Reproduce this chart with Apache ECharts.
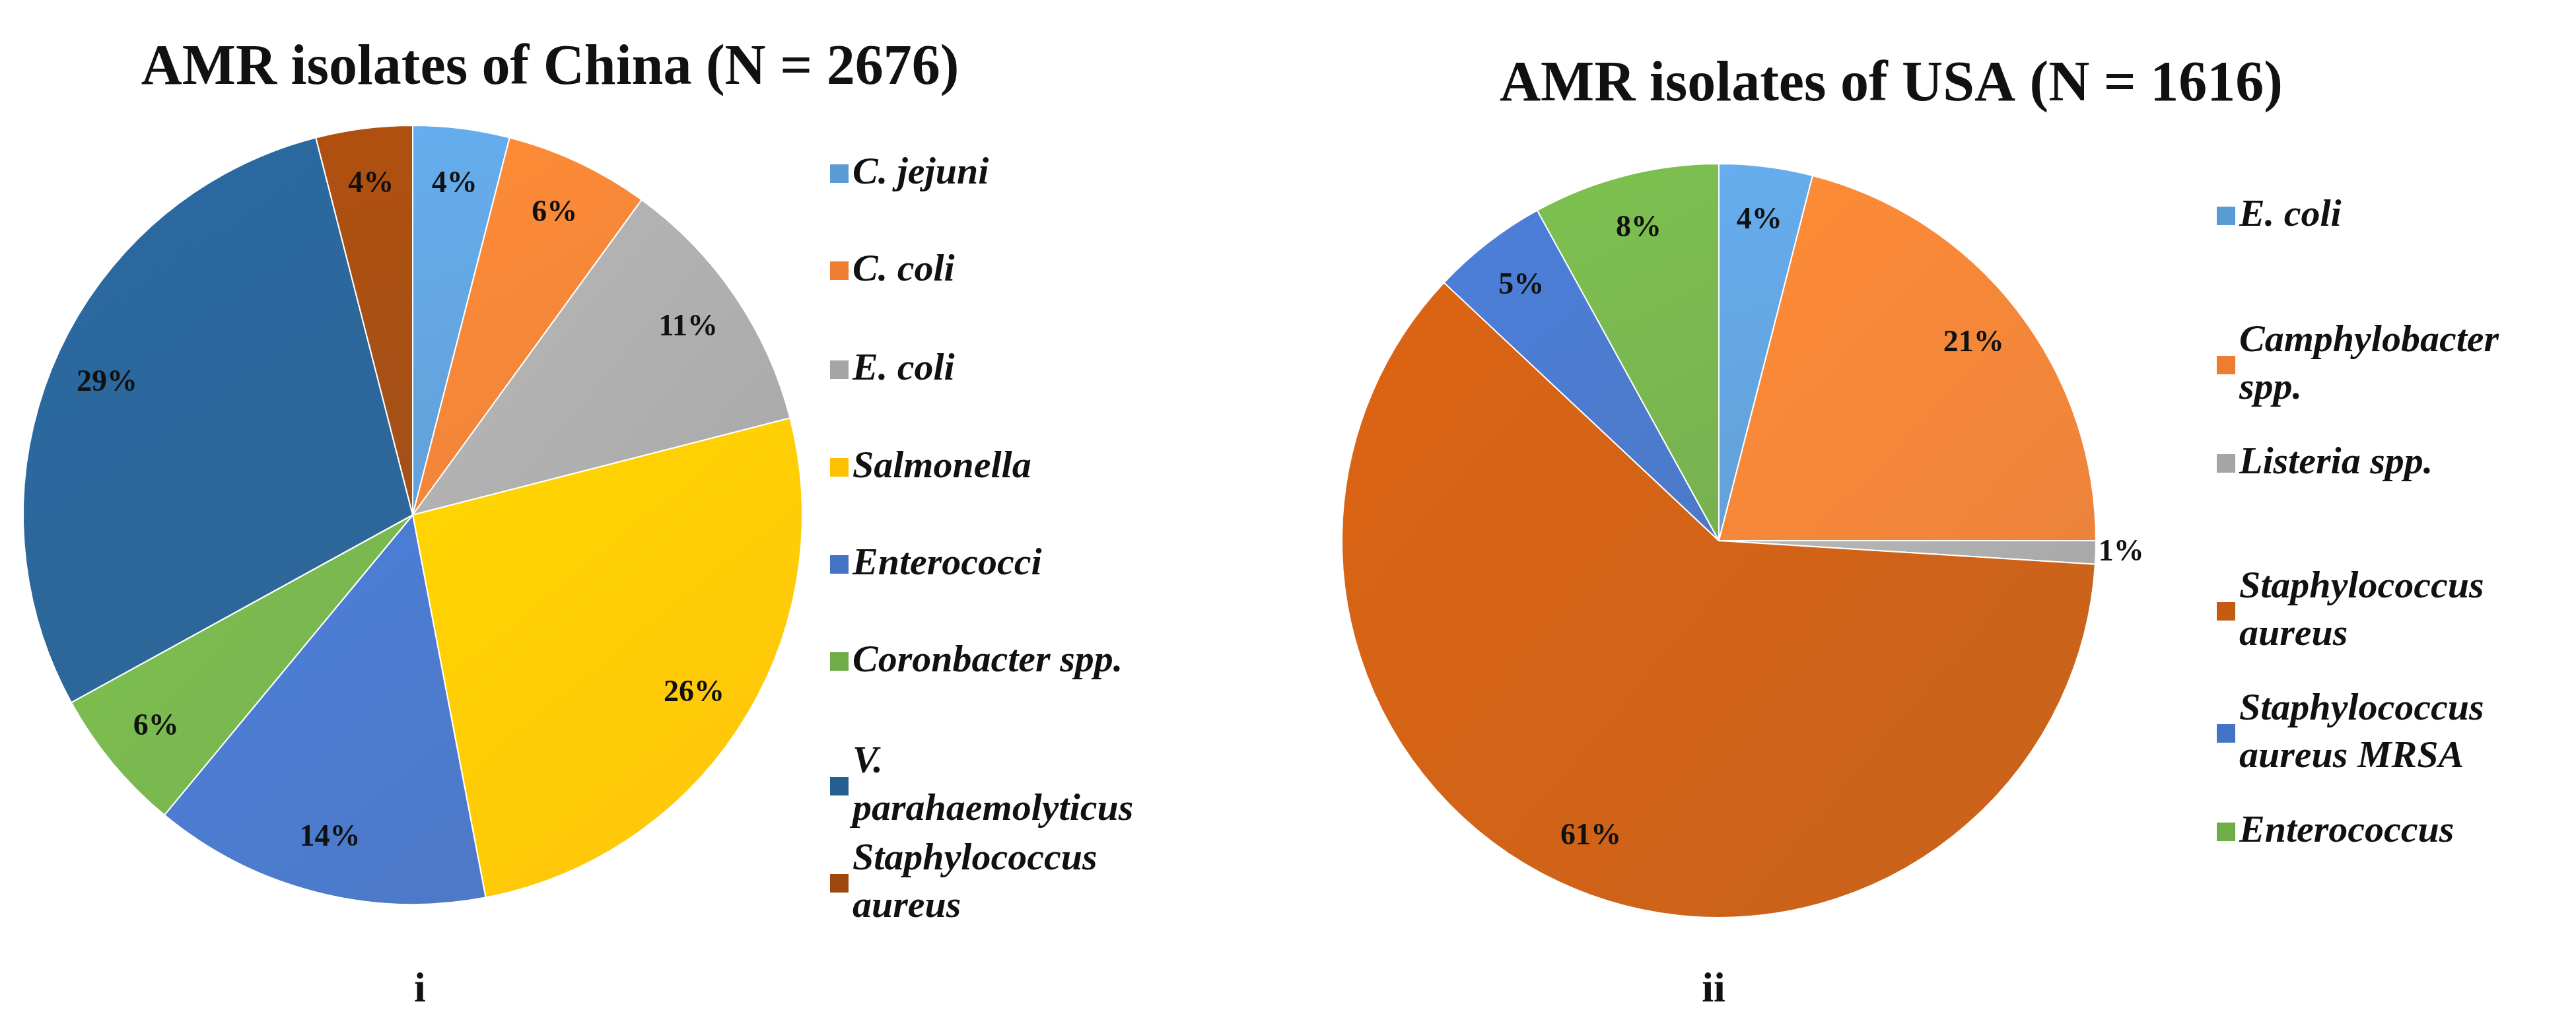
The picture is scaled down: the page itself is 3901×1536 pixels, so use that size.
<!DOCTYPE html>
<html><head><meta charset="utf-8">
<script src="https://cdn.jsdelivr.net/npm/echarts@6/dist/echarts.min.js"></script>
<style>html,body{margin:0;background:#fff}#c{width:3901px;height:1536px}</style>
</head><body><div id="c"></div>
<script>
const chinaCats = ['C. jejuni','C. coli','E. coli','Salmonella','Enterococci','Coronbacter spp.','V. parahaemolyticus','Staphylococcus aureus'];
const chinaVals = [4,6,11,26,14,6,29,4];
const chinaColors = ['#5B9BD5','#ED7D31','#A5A5A5','#FFC000','#4472C4','#70AD47','#255E91','#9E480E'];
const chinaLegendText = ['C. jejuni','C. coli','E. coli','Salmonella','Enterococci','Coronbacter spp.','V.\nparahaemolyticus','Staphylococcus\naureus'];
const usaCats = ['E. coli\u200b','Camphylobacter spp.','Listeria spp.','Staphylococcus aureus\u200b','Staphylococcus aureus MRSA','Enterococcus'];
const usaVals = [4,21,1,61,5,8];
const usaColors = ['#5B9BD5','#ED7D31','#A5A5A5','#C55A11','#4472C4','#70AD47'];
const usaLegendText = ['E. coli','Camphylobacter\nspp.','Listeria spp.','Staphylococcus\naureus','Staphylococcus\naureus MRSA','Enterococcus'];

const chinaLegendY = [258,405,555,703,850,997,1150,1297];
const usaLegendY = [322,512,697,885,1070,1255];
const serif = '"Liberation Serif","DejaVu Serif",serif';

function legends(cats, texts, colors, ys, left, multi) {
  return cats.map((n,i)=>({
    data:[{name:n, itemStyle:{color:colors[i]}}],
    left:left, top: ys[i]-36, orient:'vertical', icon:'rect', itemWidth:30, itemHeight:30, itemGap:0,
    formatter:()=>texts[i],
    textStyle:{fontFamily:serif,fontSize:58,fontWeight:'bold',fontStyle:'italic',color:'#111',lineHeight:72,
      padding: texts[i].includes('\n') ? [0,0,0,0] : 0},
    selectedMode:false
  }));
}
function pies(cats, vals, colors, center, r, special) {
  const data = cats.map((n,i)=>({name:n, value:vals[i], itemStyle:{color:{type:'linear',x:0,y:0,x2:1,y2:1,colorStops:[{offset:0,color:echarts.color.lift(colors[i],-0.12)},{offset:1,color:echarts.color.lift(colors[i],0.05)}]}}}));
  const ldata = cats.map((n,i)=>{
    const d = {name:n, value:vals[i], itemStyle:{color:'rgba(0,0,0,0)'}};
    if (special===i) d.label = {position:'outside', distanceToLabelLine:0};
    return d;
  });
  return [
    {type:'pie', radius:[0,r], center:center, startAngle:90, clockwise:true, label:{show:false}, labelLine:{show:false},
     itemStyle:{borderColor:'#fff',borderWidth:2}, emphasis:{disabled:true}, data:data},
    {type:'pie', radius:[r*0.7,r], center:center, startAngle:90, clockwise:true, silent:true, legendHoverLink:false,
     label:{show:true, position:'inside', formatter:'{c}%', fontFamily:serif, fontSize:46, fontWeight:'bold', color:'#111'},
     labelLine:{show:false, length:4, length2:0}, emphasis:{disabled:true}, data:ldata}
  ];
}
const chart = echarts.init(document.getElementById('c'));
chart.setOption({
  backgroundColor:'#fff',
  animation:false,
  title:[
    {text:'AMR isolates of China (N = 2676)', left:828, top:100, textAlign:'center', textVerticalAlign:'middle',
     textStyle:{fontFamily:serif,fontSize:86,fontWeight:'bold',color:'#111'}},
    {text:'AMR isolates of USA (N = 1616)', left:2859, top:125, textAlign:'center', textVerticalAlign:'middle',
     textStyle:{fontFamily:serif,fontSize:86,fontWeight:'bold',color:'#111'}},
    {text:'i', left:631, top:1495, textAlign:'center', textVerticalAlign:'middle', textStyle:{fontFamily:serif,fontSize:64,fontWeight:'bold',color:'#111'}},
    {text:'ii', left:2590, top:1495, textAlign:'center', textVerticalAlign:'middle', textStyle:{fontFamily:serif,fontSize:64,fontWeight:'bold',color:'#111'}}
  ],
  legend: legends(chinaCats, chinaLegendText, chinaColors, chinaLegendY, 1250).concat(
          legends(usaCats, usaLegendText, usaColors, usaLegendY, 3350)),
  series: pies(chinaCats, chinaVals, chinaColors, [625,780], 590, -1).concat(
          pies(usaCats, usaVals, usaColors, [2603,819], 571, 2))
});
</script></body></html>
